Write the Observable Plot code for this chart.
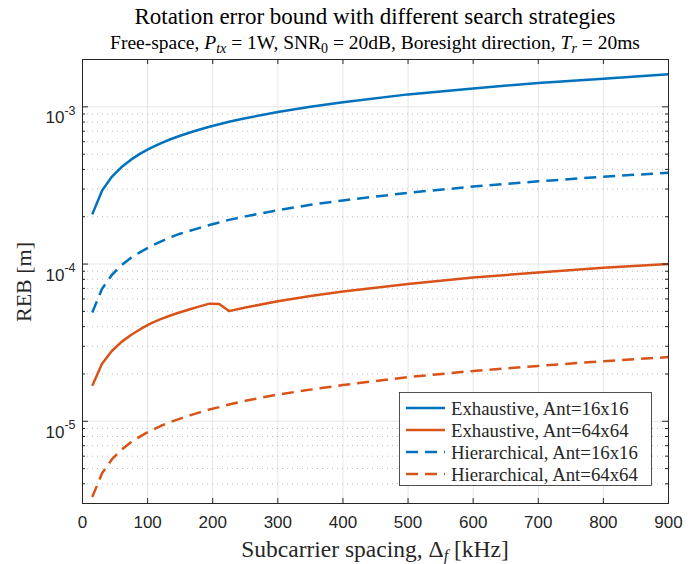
<!DOCTYPE html>
<html><head><meta charset="utf-8">
<script src="https://cdn.jsdelivr.net/npm/d3@7"></script>
<script src="https://cdn.jsdelivr.net/npm/@observablehq/plot@0.6"></script>
<style>body{margin:0;background:#fff}#chart{width:699px;height:564px}</style>
</head><body><div id="chart"></div>
<script>
// ---- data ----
const spacingKHz = [15,30,45,60,75,90,105,120,135,150,165,180,195,210,225,250,300,350,400,500,600,700,800,900];
const exh16 = [2.07e-4,2.93e-4,3.59e-4,4.14e-4,4.63e-4,5.08e-4,5.48e-4,5.86e-4,6.22e-4,6.55e-4,6.87e-4,7.18e-4,7.47e-4,7.75e-4,8.03e-4,8.46e-4,9.27e-4,1.0e-3,1.07e-3,1.2e-3,1.31e-3,1.42e-3,1.51e-3,1.61e-3];
const exh64 = [1.68e-5,2.32e-5,2.80e-5,3.20e-5,3.55e-5,3.88e-5,4.20e-5,4.46e-5,4.71e-5,4.94e-5,5.16e-5,5.38e-5,5.60e-5,5.58e-5,5.02e-5,5.29e-5,5.80e-5,6.26e-5,6.69e-5,7.48e-5,8.20e-5,8.85e-5,9.47e-5,1.00e-4];
const hier16 = [4.92e-5,6.96e-5,8.52e-5,9.84e-5,1.10e-4,1.20e-4,1.30e-4,1.39e-4,1.48e-4,1.56e-4,1.63e-4,1.70e-4,1.77e-4,1.84e-4,1.91e-4,2.01e-4,2.20e-4,2.38e-4,2.54e-4,2.84e-4,3.11e-4,3.36e-4,3.59e-4,3.81e-4];
const hier64 = [3.30e-6,4.67e-6,5.72e-6,6.60e-6,7.38e-6,8.08e-6,8.73e-6,9.33e-6,9.90e-6,1.04e-5,1.09e-5,1.14e-5,1.19e-5,1.23e-5,1.28e-5,1.35e-5,1.48e-5,1.59e-5,1.70e-5,1.91e-5,2.09e-5,2.25e-5,2.41e-5,2.56e-5];
const seriesNames = ["Exhaustive, Ant=16x16","Exhaustive, Ant=64x64","Hierarchical, Ant=16x16","Hierarchical, Ant=64x64"];
const seriesValues = [exh16, exh64, hier16, hier64];
const seriesColors = ["#0072BD","#D95319","#0072BD","#D95319"];
const seriesDash = [null, null, "12,7", "12,7"];
const xTicks = [0,100,200,300,400,500,600,700,800,900];
const yDecades = [1e-5,1e-4,1e-3];
const xDomain = [0, 900];
const yDomain = [3e-6, 2e-3];

// ---- layout ----
const W = 699, H = 564, mL = 82, mR = 31, mT = 59, mB = 61;
const pw = W - mL - mR, ph = H - mT - mB;
const serif = "'Liberation Serif','Times New Roman',serif";
const sans = "'Liberation Sans',Arial,Helvetica,sans-serif";
const axisColor = "#262626";

const yMinor = [];
for (let e = -6; e <= -3; e++) for (let k = 2; k <= 9; k++) {
  const v = +(k * Math.pow(10, e)).toPrecision(6);
  if (v >= yDomain[0] && v <= yDomain[1]) yMinor.push(v);
}

const lineMarks = seriesValues.map((vals, i) =>
  Plot.line(spacingKHz.map((x, j) => ({x, y: vals[j]})), {
    x: "x", y: "y", stroke: seriesColors[i], strokeWidth: 2.5,
    strokeDasharray: seriesDash[i] || undefined, strokeLinejoin: "round", strokeLinecap: "butt"
  })
);

const plot = Plot.plot({
  width: W, height: H,
  marginLeft: mL, marginRight: mR, marginTop: mT, marginBottom: mB,
  x: {domain: xDomain, label: null},
  y: {type: "log", domain: yDomain, label: null},
  style: {fontFamily: sans, background: "#fff", overflow: "visible"},
  marks: [
    Plot.ruleX(xTicks.filter(d => d > xDomain[0] && d < xDomain[1]), {x: d => d, stroke: "#e6e6e6", strokeWidth: 1}),
    Plot.ruleY(yMinor, {y: d => d, stroke: "#bcbcbc", strokeWidth: 1, strokeDasharray: "1,4"}),
    Plot.ruleY(yDecades, {y: d => d, stroke: "#e6e6e6", strokeWidth: 1}),
    ...lineMarks,
    Plot.frame({stroke: axisColor, strokeWidth: 1}),
    Plot.tickX(xTicks, {x: d => d, stroke: axisColor, insetTop: ph - 5}),
    Plot.tickX(xTicks, {x: d => d, stroke: axisColor, insetBottom: ph - 5}),
    Plot.tickY(yDecades, {y: d => d, stroke: axisColor, insetRight: pw - 6}),
    Plot.tickY(yDecades, {y: d => d, stroke: axisColor, insetLeft: pw - 6}),
    Plot.tickY(yMinor, {y: d => d, stroke: axisColor, insetRight: pw - 3}),
    Plot.tickY(yMinor, {y: d => d, stroke: axisColor, insetLeft: pw - 3}),
    Plot.axisX(xTicks, {tickSize: 0, tickPadding: 12, fontSize: 17, fill: axisColor, label: null, tickFormat: d => String(d)}),
    Plot.axisY(yDecades, {tickSize: 0, tickPadding: 7, fontSize: 17, fill: axisColor, label: null,
      tickFormat: d => "10|" + Math.round(Math.log10(d))})
  ]
});
document.getElementById("chart").appendChild(plot);

const svg = d3.select(plot);
// superscript exponents on y tick labels
svg.selectAll('g[aria-label="y-axis tick label"] text').each(function () {
  const t = d3.select(this);
  const parts = t.text().split("|");
  t.text(parts[0]).attr("dy", "0.66em");
  t.append("tspan").attr("dy", -9).attr("font-size", 12.5).text(parts[1]);
});

function rich(sel, parts, subSize) {
  let shift = 0;
  parts.forEach(([txt, st]) => {
    const ts = sel.append("tspan").text(txt);
    const target = st.includes("sub") ? 4 : 0;
    if (target !== shift) { ts.attr("dy", target - shift); shift = target; }
    if (st.includes("i")) ts.attr("font-style", "italic");
    if (st.includes("sub")) ts.attr("font-size", subSize);
  });
}
function centerAt(sel, x) {
  sel.attr("text-anchor", "start");
  const w = sel.node().getComputedTextLength();
  sel.attr("x", x - w / 2);
}

const cx = mL + pw / 2;
const t1 = svg.append("text").attr("y", 24)
  .attr("font-family", serif).attr("font-size", 23).attr("fill", "#000")
  .text("Rotation error bound with different search strategies");
centerAt(t1, cx);
const t2 = svg.append("text").attr("y", 49)
  .attr("font-family", serif).attr("font-size", 19.5).attr("fill", "#000");
rich(t2, [["Free-space, ", ""], ["P", "i"], ["tx", "subi"], [" = 1W, SNR", ""], ["0", "sub"],
   [" = 20dB, Boresight direction, ", ""], ["T", "i"], ["r", "subi"], [" = 20ms", ""]], 14);
centerAt(t2, cx);
const t3 = svg.append("text").attr("y", 557)
  .attr("font-family", serif).attr("font-size", 23.5).attr("fill", axisColor);
rich(t3, [["Subcarrier spacing, Δ", ""], ["f", "subi"], [" [kHz]", ""]], 16);
centerAt(t3, cx);
svg.append("text").attr("transform", `translate(31,${mT + ph / 2 + 1}) rotate(-90)`).attr("text-anchor", "middle")
  .attr("font-family", serif).attr("font-size", 22).attr("fill", axisColor).text("REB [m]");

// legend
const lg = svg.append("g");
lg.append("rect").attr("x", 399.5).attr("y", 392.5).attr("width", 252).attr("height", 93)
  .attr("fill", "#fff").attr("stroke", axisColor).attr("stroke-width", 0.8);
seriesNames.forEach((name, i) => {
  const y = 408 + i * 22;
  lg.append("line").attr("x1", 406).attr("x2", 445).attr("y1", y).attr("y2", y)
    .attr("stroke", seriesColors[i]).attr("stroke-width", 2.5)
    .attr("stroke-dasharray", seriesDash[i] || null);
  lg.append("text").attr("x", 451).attr("y", y).attr("dy", "0.35em").attr("text-anchor", "start")
    .attr("font-family", serif).attr("font-size", 18.8).attr("fill", axisColor).text(name);
});
</script>
</body></html>
